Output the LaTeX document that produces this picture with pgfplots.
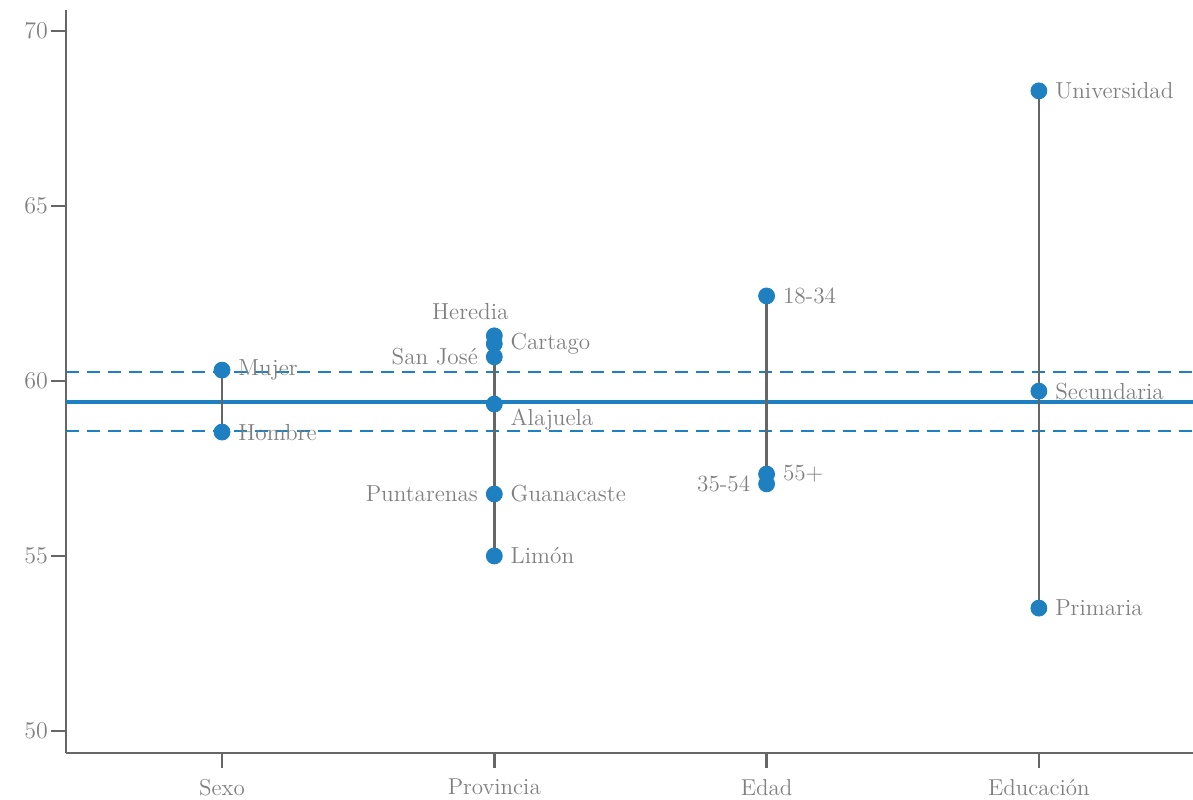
\documentclass[border=0pt]{standalone}
\usepackage{pgfplots}
\pgfplotsset{compat=1.18}
\usepackage{pgfplotstable}
\definecolor{ptblue}{RGB}{31,128,193}
\definecolor{axgray}{RGB}{102,102,102}
\definecolor{txtgray}{RGB}{128,128,128}
\pgfplotstableread{
x y
0 60.31
0 58.54
1 61.29
1 61.06
1 60.69
1 59.34
1 56.77
1 55.00
2 62.43
2 57.34
2 57.06
3 68.29
3 59.71
3 53.51
}\pts
\pgfplotstableread{
x y lab
0 60.31 Mujer
0 58.54 Hombre
1 61.06 Cartago
1 56.77 Guanacaste
1 55.00 Limón
2 62.43 18-34
2 57.34 55+
3 68.29 Universidad
3 59.71 Secundaria
3 53.51 Primaria
}\rightlabs
\pgfplotstableread{
x y lab
1 60.69 {San José}
1 56.77 Puntarenas
2 57.06 35-54
}\leftlabs
\pgfplotstableread{
x y lab
1 59.34 Alajuela
}\belowlabs
\pgfplotstableread{
x y lab
1 61.29 Heredia
}\abovelabs
\begin{document}
\begin{tikzpicture}
\begin{axis}[
  scale only axis,
  width=563.5pt, height=371.5pt,
  xmin=-0.573, xmax=3.566,
  ymin=49.37, ymax=70.6,
  axis lines*=left,
  axis line style={axgray, line width=1.25pt},
  tick style={axgray, line width=1.25pt},
  major tick length=7.5pt,
  tick align=outside,
  xtick={0,1,2,3},
  xticklabels={Sexo,Provincia,Edad,Educación},
  ytick={50,55,60,65,70},
  tick label style={txtgray, font=\fontsize{11.5}{13}\selectfont},
  y tick label style={xshift=2pt},
  x tick label style={font=\fontsize{11.5}{13}\selectfont, yshift=-2pt},
  clip=false,
  every node near coord/.append style={txtgray, font=\fontsize{11.6}{13}\selectfont},
]
% mean and bounds
\addplot[ptblue, line width=2pt] coordinates {(-0.573,59.4) (3.566,59.4)};
\addplot[ptblue, line width=1pt, dash pattern=on 6.5pt off 4pt] coordinates {(-0.573,60.26) (3.566,60.26)};
\addplot[ptblue, line width=1pt, dash pattern=on 6.5pt off 4pt] coordinates {(-0.573,58.57) (3.566,58.57)};
% ranges
\addplot[axgray, line width=1.25pt, unbounded coords=jump] coordinates {
 (0,58.54) (0,60.31) (0,nan)
 (1,55.00) (1,61.29) (1,nan)
 (2,57.06) (2,62.43) (2,nan)
 (3,53.51) (3,68.29)};
% points
\addplot[only marks, mark=*, mark size=4pt, ptblue, mark options={draw=ptblue, fill=ptblue}] table[x=x,y=y] {\pts};
% labels
\addplot[draw=none, mark=none, nodes near coords, point meta=explicit symbolic,
  nodes near coords style={anchor=west, xshift=7pt, inner sep=1pt}]
  table[x=x,y=y,meta=lab] {\rightlabs};
\addplot[draw=none, mark=none, nodes near coords, point meta=explicit symbolic,
  nodes near coords style={anchor=east, xshift=-7pt, inner sep=1pt}]
  table[x=x,y=y,meta=lab] {\leftlabs};
\addplot[draw=none, mark=none, nodes near coords, point meta=explicit symbolic,
  nodes near coords style={anchor=west, xshift=7pt, yshift=-8pt, inner sep=1pt}]
  table[x=x,y=y,meta=lab] {\belowlabs};
\addplot[draw=none, mark=none, nodes near coords, point meta=explicit symbolic,
  nodes near coords style={anchor=south, xshift=-12pt, yshift=7pt, inner sep=1pt}]
  table[x=x,y=y,meta=lab] {\abovelabs};
\end{axis}
\pgfresetboundingbox
\path ([xshift=-33pt,yshift=-23pt]current axis.south west) rectangle ([yshift=5pt]current axis.north east);
\end{tikzpicture}
\end{document}
